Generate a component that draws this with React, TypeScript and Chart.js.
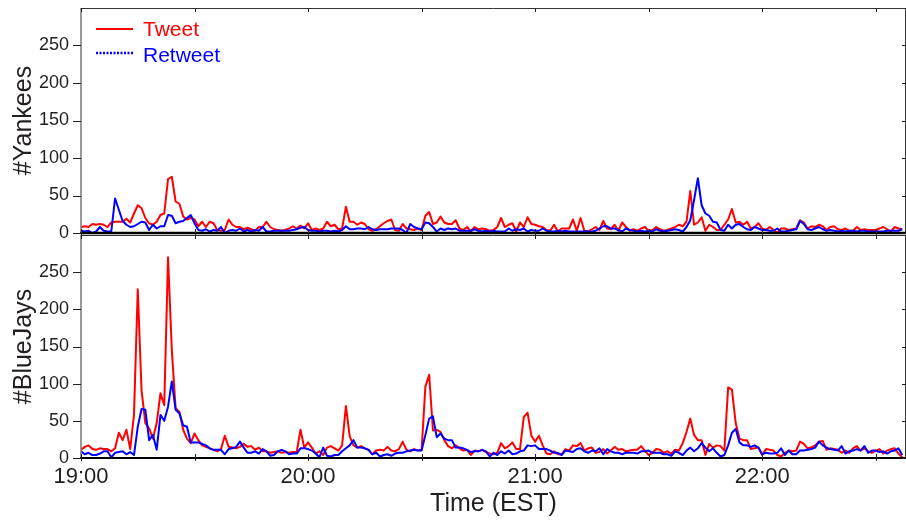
import React, { useEffect, useRef } from 'react';
import Chart from 'chart.js/auto';

// minutes after 19:00
const minutes: number[] = Array.from({ length: 218 }, (_, i) => i);
const xTickValues = [0, 60, 120, 180];
const xTickLabels = ['19:00', '20:00', '21:00', '22:00'];
const xMinorTicks = [0, 30, 60, 90, 120, 150, 180, 210];
const yTickValues = [0, 50, 100, 150, 200, 250];
const seriesNames = ['Tweet', 'Retweet'];
const panelTitles = ['#Yankees', '#BlueJays'];
const xTitle = 'Time (EST)';

const yankeesTweet = [8,9,8,12,11,12,11,8,14,15,
15,15,19,14,26,37,33,20,13,11,
15,24,26,72,75,42,39,22,18,20,
18,9,15,8,15,13,4,3,4,18,
11,8,8,5,7,5,3,8,8,15,
8,5,4,3,4,6,9,6,10,6,
13,4,6,4,6,15,9,11,5,6,
35,15,15,11,14,12,5,3,5,9,
13,16,18,4,3,12,6,5,4,6,
4,23,28,12,14,22,14,12,12,17,
6,4,8,2,8,5,6,5,3,4,
8,20,8,11,13,2,14,8,21,12,
11,9,8,4,3,11,2,6,6,6,
18,3,20,3,2,5,8,4,16,6,
5,11,3,14,8,3,5,3,6,8,
3,4,8,5,3,4,6,8,11,9,
15,56,11,14,21,3,11,8,4,4,
11,18,32,14,15,11,15,6,8,13,
6,4,8,4,0,6,6,4,5,6,
17,14,6,9,8,11,9,4,8,9,
5,4,6,3,3,8,4,5,4,4,
4,6,8,5,2,8,6,5];

const yankeesRetweet = [3,2,3,0,2,8,3,2,2,46,
31,16,11,8,9,12,15,14,4,11,
6,9,9,24,23,13,15,16,20,24,
13,4,3,5,2,4,3,8,0,3,
4,3,6,2,4,2,4,3,8,2,
2,3,3,3,3,3,4,5,7,8,
4,3,3,2,3,3,2,3,2,4,
9,5,5,6,6,5,8,5,4,5,
5,5,6,6,6,4,0,12,8,6,
5,14,13,8,2,6,4,6,5,6,
3,3,3,3,5,3,2,3,2,3,
2,2,2,6,3,5,4,6,2,4,
3,3,6,3,2,2,3,2,3,2,
2,2,2,2,2,2,3,6,9,9,
6,6,4,2,6,4,3,2,3,2,
3,2,5,3,2,3,4,5,4,2,
8,17,44,73,37,26,23,15,14,4,
3,11,6,11,12,8,5,4,8,6,
4,4,3,3,6,2,2,3,4,5,
16,12,5,4,6,8,5,3,4,3,
2,3,2,3,3,2,3,3,2,2,
2,2,2,3,3,3,3,5];

const blueJaysTweet = [11,15,17,12,11,13,12,12,9,13,
34,24,38,12,58,227,91,47,40,26,
47,87,71,270,145,67,62,38,26,20,
33,24,17,15,13,11,9,12,30,15,
14,13,15,19,15,16,11,14,9,9,
7,8,9,7,8,7,8,8,38,14,
21,14,6,9,4,14,16,13,10,17,
70,29,17,14,16,13,11,5,10,11,
10,15,10,9,12,22,11,9,12,10,
11,96,112,37,38,35,24,16,13,17,
13,10,11,4,10,9,11,8,6,5,
7,20,13,16,21,12,12,55,61,30,
22,30,17,6,5,9,5,5,12,10,
17,16,20,10,13,14,7,8,12,6,
10,15,11,12,9,10,11,11,16,10,
4,7,12,11,7,9,6,11,10,20,
35,53,31,24,24,4,19,14,17,16,
10,95,92,47,26,24,24,12,13,14,
4,12,11,10,4,2,7,10,9,10,
22,19,13,14,17,22,23,11,13,12,
11,7,10,7,13,16,10,13,9,7,
10,12,6,10,12,13,6,1];

const blueJaysRetweet = [9,5,7,4,4,6,9,9,1,7,
8,9,5,8,4,42,66,65,24,31,
11,58,50,69,103,65,60,44,42,21,
21,21,19,17,13,11,11,11,5,12,
13,15,22,14,7,7,9,6,12,9,
3,4,9,11,9,5,6,6,13,13,
12,10,6,1,14,3,2,4,4,9,
13,17,24,14,14,13,11,5,7,2,
4,5,3,6,7,7,9,10,11,10,
10,31,53,56,28,33,26,24,24,14,
14,13,11,8,9,9,11,9,2,7,
4,9,6,10,5,6,9,10,17,16,
17,12,12,12,10,7,7,4,10,9,
8,12,13,9,7,10,9,13,5,12,
9,7,7,5,7,7,7,6,9,9,
10,7,7,7,5,5,3,9,7,4,
10,14,9,13,20,14,9,13,7,2,
4,17,34,39,21,17,17,15,17,14,
5,7,6,6,7,13,4,10,5,5,
10,10,11,12,14,22,17,14,12,11,
10,16,6,9,10,12,10,16,7,10,
10,8,9,6,9,10,13,4];

const RED = '#ff0000';
const BLUE = '#0000ff';
const TEXT = '#231f20';
const FONT = "'Liberation Sans', Arial, Helvetica, sans-serif";

function framePlugin(showLegend: boolean, bottomWidth: number) {
  return {
    id: 'frame',
    afterDraw(chart: any) {
      const { ctx, chartArea: a, scales } = chart;
      const xs = scales.x;
      const ys = scales.y;
      const line = (x1: number, y1: number, x2: number, y2: number) => {
        ctx.beginPath();
        ctx.moveTo(x1, y1);
        ctx.lineTo(x2, y2);
        ctx.stroke();
      };
      ctx.save();
      ctx.lineCap = 'butt';
      ctx.setLineDash([]);
      // top & right border
      ctx.strokeStyle = '#333';
      ctx.lineWidth = 1;
      line(a.left, a.top + 0.5, a.right, a.top + 0.5);
      line(a.right - 0.5, a.top, a.right - 0.5, a.bottom);
      // left axis
      ctx.strokeStyle = '#777';
      ctx.lineWidth = 1.5;
      line(a.left, a.top, a.left, a.bottom);
      // bottom axis
      ctx.strokeStyle = '#000';
      ctx.lineWidth = bottomWidth;
      line(a.left - 0.75, a.bottom, a.right, a.bottom);
      // ticks
      ctx.strokeStyle = '#222';
      ctx.lineWidth = 1;
      yTickValues.forEach((v) => {
        const y = Math.round(ys.getPixelForValue(v)) + 0.5;
        line(a.left - 8, y, a.left, y);
        line(a.right - 4, y, a.right, y);
      });
      xMinorTicks.forEach((v) => {
        const x = Math.round(xs.getPixelForValue(v)) + 0.5;
        line(x, a.top, x, a.top + 4);
        line(x, a.bottom - 4, x, a.bottom + 3);
      });
      if (showLegend) {
        const lx = a.left + 15;
        ctx.font = `21px ${FONT}`;
        ctx.textBaseline = 'middle';
        ctx.textAlign = 'left';
        ctx.strokeStyle = RED;
        ctx.lineWidth = 2;
        line(lx, a.top + 21, lx + 37, a.top + 21);
        ctx.fillStyle = RED;
        ctx.fillText(seriesNames[0], lx + 47, a.top + 22);
        ctx.strokeStyle = BLUE;
        ctx.lineWidth = 2.5;
        ctx.setLineDash([2, 1.5]);
        line(lx, a.top + 45, lx + 37, a.top + 45);
        ctx.setLineDash([]);
        ctx.fillStyle = BLUE;
        ctx.fillText(seriesNames[1], lx + 47, a.top + 48);
      }
      ctx.restore();
    },
  };
}

function makeConfig(
  tweets: number[],
  retweets: number[],
  title: string,
  isBottom: boolean
): any {
  return {
    type: 'line',
    data: {
      datasets: [
        {
          label: seriesNames[0],
          data: minutes.map((m, i) => ({ x: m, y: tweets[i] })),
          borderColor: RED,
          borderWidth: 2,
          borderJoinStyle: 'round',
          pointRadius: 0,
          tension: 0,
          fill: false,
          order: 2,
        },
        {
          label: seriesNames[1],
          data: minutes.map((m, i) => ({ x: m, y: retweets[i] })),
          borderColor: BLUE,
          borderWidth: 2,
          borderJoinStyle: 'round',
          pointRadius: 0,
          tension: 0,
          fill: false,
          order: 1,
        },
      ],
    },
    options: {
      animation: false,
      responsive: false,
      maintainAspectRatio: false,
      layout: { padding: isBottom ? { top: 1, bottom: 0, left: 0, right: 0 } : { top: 8, bottom: 17, left: 0, right: 0 } },
      plugins: { legend: { display: false }, tooltip: { enabled: false } },
      scales: {
        x: {
          type: 'linear',
          min: 0,
          max: 218,
          display: isBottom,
          grid: { display: false, drawTicks: false, tickLength: 0 },
          border: { display: false },
          afterBuildTicks: (s: any) => {
            s.ticks = xTickValues.map((v) => ({ value: v }));
          },
          ticks: {
            autoSkip: false,
            maxRotation: 0,
            padding: 6,
            color: TEXT,
            font: { family: FONT, size: 22 },
            callback: (v: number) => {
              const i = xTickValues.indexOf(v);
              return i >= 0 ? xTickLabels[i] : '';
            },
          },
          title: {
            display: isBottom,
            text: xTitle,
            color: TEXT,
            font: { family: FONT, size: 25 },
            padding: { top: 0, bottom: 4 },
          },
          afterFit: (s: any) => {
            s.height = isBottom ? 65 : 0;
            s.paddingLeft = 0;
            s.paddingRight = 0;
          },
        },
        y: {
          min: 0,
          max: 300,
          grid: { display: false, drawTicks: false, tickLength: 0 },
          border: { display: false },
          afterBuildTicks: (s: any) => {
            s.ticks = yTickValues.map((v) => ({ value: v }));
          },
          ticks: {
            padding: 12,
            color: TEXT,
            font: { family: FONT, size: 18 },
          },
          title: {
            display: true,
            text: title,
            color: TEXT,
            font: { family: FONT, size: 25 },
            padding: { top: 9, bottom: 0 },
          },
          afterFit: (s: any) => {
            s.width = 81;
            s.paddingTop = 0;
            s.paddingBottom = 0;
          },
        },
      },
    },
    plugins: [framePlugin(!isBottom, isBottom ? 2 : 2.5)],
  };
}

export default function App() {
  const topRef = useRef<HTMLCanvasElement>(null);
  const botRef = useRef<HTMLCanvasElement>(null);
  useEffect(() => {
    const c1 = new Chart(topRef.current as HTMLCanvasElement, makeConfig(yankeesTweet, yankeesRetweet, panelTitles[0], false));
    const c2 = new Chart(botRef.current as HTMLCanvasElement, makeConfig(blueJaysTweet, blueJaysRetweet, panelTitles[1], true));
    return () => {
      c1.destroy();
      c2.destroy();
    };
  }, []);
  return (
    <div style={{ position: 'fixed', left: 0, top: 0, width: 906, height: 523, background: '#fff', overflow: 'hidden' }}>
      <canvas ref={topRef} width={906} height={250} style={{ position: 'absolute', left: 0, top: 0, width: 906, height: 250 }} />
      <canvas ref={botRef} width={906} height={289} style={{ position: 'absolute', left: 0, top: 234, width: 906, height: 289 }} />
    </div>
  );
}
